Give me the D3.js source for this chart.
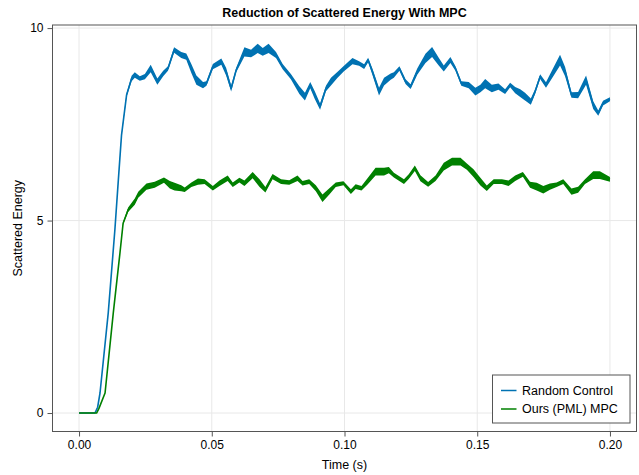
<!DOCTYPE html>
<html>
<head>
<meta charset="utf-8">
<script src="https://cdn.jsdelivr.net/npm/d3@7"></script>
<style>
  body { margin: 0; background: #fff; }
  text { font-family: "Liberation Sans", "DejaVu Sans", sans-serif; fill: #000; }
</style>
</head>
<body>
<div id="chart"></div>
<script>
// time (s), energy, and half-width of the fast oscillation band
const blueTime = [0, 0.006, 0.007, 0.0079, 0.011, 0.0135, 0.0148, 0.016, 0.0179, 0.0198, 0.021, 0.0229, 0.0248, 0.027, 0.0295, 0.0317, 0.0335, 0.0358, 0.0385, 0.0404, 0.0423, 0.0442, 0.0467, 0.048, 0.0504, 0.0536, 0.0554, 0.0573, 0.0592, 0.0623, 0.0648, 0.0673, 0.0692, 0.0714, 0.0742, 0.0767, 0.0798, 0.083, 0.0851, 0.0871, 0.0888, 0.0908, 0.093, 0.0949, 0.0973, 0.0998, 0.103, 0.1055, 0.1074, 0.1089, 0.1105, 0.113, 0.1149, 0.1174, 0.1186, 0.1207, 0.123, 0.1249, 0.1274, 0.1305, 0.133, 0.1355, 0.1374, 0.1399, 0.1418, 0.144, 0.1468, 0.1493, 0.1512, 0.153, 0.1555, 0.158, 0.1605, 0.1624, 0.1643, 0.1662, 0.168, 0.1702, 0.1718, 0.1737, 0.1759, 0.178, 0.1812, 0.1831, 0.1855, 0.188, 0.191, 0.1937, 0.1956, 0.1974, 0.2];
const blueEnergy = [0, 0, 0.15, 0.52, 2.6, 4.76, 6.05, 7.22, 8.26, 8.69, 8.78, 8.69, 8.74, 8.95, 8.61, 8.82, 8.95, 9.43, 9.30, 9.26, 8.95, 8.65, 8.52, 8.56, 9.0, 9.13, 8.87, 8.43, 8.91, 9.38, 9.34, 9.47, 9.38, 9.47, 9.30, 9.0, 8.74, 8.39, 8.22, 8.52, 8.26, 7.96, 8.43, 8.61, 8.78, 8.95, 9.14, 9.08, 9.0, 9.17, 8.87, 8.35, 8.61, 8.74, 8.78, 8.95, 8.61, 8.48, 8.87, 9.21, 9.38, 9.13, 8.95, 9.17, 8.95, 8.56, 8.52, 8.35, 8.43, 8.56, 8.43, 8.48, 8.35, 8.52, 8.39, 8.31, 8.22, 8.09, 8.35, 8.74, 8.52, 8.78, 9.17, 8.87, 8.26, 8.26, 8.65, 8.0, 7.79, 8.05, 8.15];
const blueSpread = [0, 0, 0, 0, 0, 0, 0.02, 0.03, 0.05, 0.07, 0.07, 0.06, 0.07, 0.1, 0.08, 0.07, 0.06, 0.07, 0.08, 0.08, 0.12, 0.12, 0.08, 0.06, 0.07, 0.08, 0.1, 0.08, 0.06, 0.12, 0.1, 0.12, 0.1, 0.12, 0.08, 0.07, 0.07, 0.1, 0.1, 0.08, 0.1, 0.08, 0.07, 0.1, 0.08, 0.07, 0.08, 0.06, 0.06, 0.06, 0.08, 0.1, 0.1, 0.08, 0.07, 0.06, 0.06, 0.06, 0.08, 0.12, 0.13, 0.1, 0.08, 0.08, 0.06, 0.06, 0.08, 0.1, 0.1, 0.12, 0.1, 0.08, 0.06, 0.06, 0.08, 0.1, 0.1, 0.08, 0.06, 0.06, 0.07, 0.1, 0.14, 0.12, 0.07, 0.08, 0.12, 0.1, 0.07, 0.06, 0.05];

const greenTime = [0, 0.0066, 0.0075, 0.0098, 0.0129, 0.0154, 0.0166, 0.0185, 0.021, 0.0223, 0.0254, 0.0285, 0.032, 0.0342, 0.036, 0.0385, 0.0398, 0.0423, 0.0448, 0.0473, 0.0504, 0.0529, 0.056, 0.0579, 0.0604, 0.0623, 0.0654, 0.068, 0.0702, 0.0729, 0.0761, 0.0792, 0.0823, 0.0842, 0.0867, 0.0892, 0.0917, 0.0942, 0.0967, 0.0996, 0.1024, 0.1042, 0.1064, 0.1086, 0.1117, 0.1149, 0.1167, 0.1186, 0.1224, 0.1242, 0.1265, 0.1286, 0.1315, 0.1343, 0.1374, 0.1405, 0.1437, 0.1461, 0.1486, 0.1512, 0.1536, 0.1562, 0.1593, 0.1618, 0.1643, 0.1672, 0.1699, 0.1724, 0.1749, 0.1774, 0.1799, 0.1824, 0.1855, 0.188, 0.1906, 0.1937, 0.1962, 0.2];
const greenEnergy = [0, 0, 0.12, 0.52, 2.6, 4.15, 4.93, 5.28, 5.49, 5.67, 5.88, 5.93, 6.05, 5.93, 5.88, 5.84, 5.80, 5.93, 6.01, 6.01, 5.84, 5.97, 6.10, 5.93, 6.05, 5.97, 6.18, 5.97, 5.80, 6.14, 6.01, 5.99, 6.10, 5.97, 6.01, 5.84, 5.58, 5.75, 5.93, 5.97, 5.75, 5.88, 5.84, 6.01, 6.27, 6.27, 6.31, 6.18, 6.01, 6.14, 6.36, 6.10, 5.94, 6.10, 6.40, 6.53, 6.53, 6.40, 6.23, 6.01, 5.84, 6.01, 6.01, 5.97, 6.10, 6.20, 5.93, 5.88, 5.80, 5.88, 5.93, 6.01, 5.75, 5.80, 6.01, 6.18, 6.18, 6.07];
const greenSpread = [0, 0, 0, 0, 0, 0, 0.03, 0.06, 0.08, 0.08, 0.08, 0.08, 0.07, 0.1, 0.1, 0.08, 0.06, 0.06, 0.08, 0.06, 0.06, 0.07, 0.07, 0.06, 0.06, 0.07, 0.08, 0.1, 0.07, 0.07, 0.06, 0.06, 0.07, 0.06, 0.06, 0.08, 0.1, 0.08, 0.06, 0.05, 0.06, 0.06, 0.06, 0.08, 0.1, 0.1, 0.08, 0.06, 0.06, 0.06, 0.07, 0.08, 0.06, 0.07, 0.1, 0.1, 0.1, 0.08, 0.1, 0.1, 0.07, 0.06, 0.06, 0.07, 0.07, 0.06, 0.08, 0.1, 0.1, 0.08, 0.06, 0.06, 0.08, 0.08, 0.06, 0.1, 0.1, 0.06];

const xTicks = [0, 0.05, 0.1, 0.15, 0.2];
const yTicks = [0, 5, 10];
const seriesNames = ["Random Control", "Ours (PML) MPC"];
const seriesColors = ["#0072b2", "#008000"];

const width = 639, height = 475;
const m = { left: 52.5, right: 636.5, top: 25, bottom: 431.5 };

const x = d3.scaleLinear().domain([-0.01, 0.21]).range([m.left, m.right]);
const y = d3.scaleLinear().domain([-0.48, 10.08]).range([m.bottom, m.top]);

const svg = d3.select("#chart").append("svg")
  .attr("width", width).attr("height", height);

// grid
svg.append("g").selectAll("line").data(xTicks).join("line")
  .attr("x1", d => x(d)).attr("x2", d => x(d))
  .attr("y1", m.top).attr("y2", m.bottom)
  .attr("stroke", "#e8e8e8").attr("stroke-width", 1);
svg.append("g").selectAll("line").data(yTicks).join("line")
  .attr("y1", d => y(d)).attr("y2", d => y(d))
  .attr("x1", m.left).attr("x2", m.right)
  .attr("stroke", "#e8e8e8").attr("stroke-width", 1);

const series = [
  { t: blueTime, v: blueEnergy, s: blueSpread },
  { t: greenTime, v: greenEnergy, s: greenSpread }
].map((d, i) => ({
  color: seriesColors[i],
  points: d.t.map((t, j) => ({ t: t, v: d.v[j], s: d.s[j] }))
}));

const band = d3.area()
  .x(d => x(d.t))
  .y0(d => y(d.v - d.s))
  .y1(d => y(d.v + d.s));
const line = d3.line().x(d => x(d.t)).y(d => y(d.v));

const plot = svg.append("g");
series.forEach(sr => {
  plot.append("path").attr("d", band(sr.points)).attr("fill", sr.color);
  plot.append("path").attr("d", line(sr.points))
    .attr("fill", "none").attr("stroke", sr.color)
    .attr("stroke-width", 1.6).attr("stroke-linejoin", "round");
});

// frame
svg.append("rect")
  .attr("x", m.left).attr("y", m.top)
  .attr("width", m.right - m.left).attr("height", m.bottom - m.top)
  .attr("fill", "none").attr("stroke", "#555").attr("stroke-width", 1);

// axes
const xAxis = d3.axisBottom(x).tickValues(xTicks).tickFormat(d3.format(".2f"))
  .tickSize(5).tickPadding(4);
const yAxis = d3.axisLeft(y).tickValues(yTicks).tickFormat(d3.format("d"))
  .tickSize(5).tickPadding(4);

const gx = svg.append("g").attr("transform", `translate(0,${m.bottom})`).call(xAxis);
const gy = svg.append("g").attr("transform", `translate(${m.left},0)`).call(yAxis);
[gx, gy].forEach(g => {
  g.select(".domain").remove();
  g.selectAll(".tick line").attr("stroke", "#555");
  g.selectAll(".tick text").attr("font-size", 12).attr("fill", "#000")
    .attr("font-family", "Liberation Sans, sans-serif");
});

// title and labels
svg.append("text")
  .attr("x", (m.left + m.right) / 2).attr("y", 17)
  .attr("text-anchor", "middle")
  .attr("font-size", 12.5).attr("font-weight", "bold")
  .text("Reduction of Scattered Energy With MPC");

svg.append("text")
  .attr("x", (m.left + m.right) / 2).attr("y", 469)
  .attr("text-anchor", "middle").attr("font-size", 12.5)
  .text("Time (s)");

svg.append("text")
  .attr("transform", `translate(22,${(m.top + m.bottom) / 2}) rotate(-90)`)
  .attr("text-anchor", "middle").attr("font-size", 12.5)
  .text("Scattered Energy");

// legend
const lg = svg.append("g").attr("transform", "translate(492.5,375)");
lg.append("rect")
  .attr("width", 137.5).attr("height", 48)
  .attr("fill", "#fff").attr("stroke", "#555").attr("stroke-width", 1);
seriesNames.forEach((name, i) => {
  const yy = 15.5 + i * 18.5;
  lg.append("line")
    .attr("x1", 8.5).attr("x2", 24).attr("y1", yy).attr("y2", yy)
    .attr("stroke", seriesColors[i]).attr("stroke-width", 1.5);
  lg.append("text")
    .attr("x", 29.5).attr("y", yy + 4.3)
    .attr("font-size", 12.5)
    .text(name);
});
</script>
</body>
</html>
